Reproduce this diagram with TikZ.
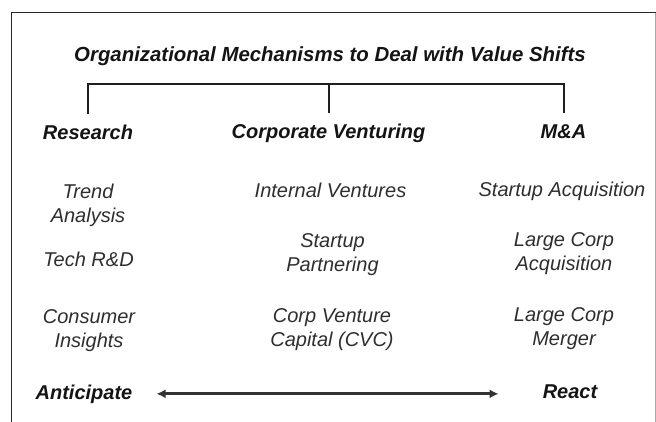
\documentclass[tikz,border=0pt]{standalone}
\usepackage{fontspec}
\setmainfont{Liberation Sans}
\usetikzlibrary{arrows.meta}
\begin{document}
\begin{tikzpicture}[x=1pt,y=-1pt,
  titletext/.style={font=\fontsize{20.4}{24}\selectfont\bfseries\itshape, text=black!92, inner sep=0pt, anchor=base},
  headtext/.style={font=\fontsize{20}{24}\selectfont\bfseries\itshape, text=black!92, inner sep=0pt, anchor=base},
  itemtext/.style={font=\fontsize{20}{24}\selectfont\itshape, text=black!82, inner sep=0pt, anchor=base, align=center},
  bracketline/.style={line width=2pt, draw=black!88},
  frameline/.style={line width=1.4pt, draw=black!85},
  spreadline/.style={line width=3pt, draw=black!80, {Latex[length=9pt,width=9pt]}-{Latex[length=9pt,width=9pt]}}
]
\useasboundingbox (0,0) rectangle (656,421);
% frame
\draw[frameline] (11.5,430) -- (11.5,12.7) -- (655.5,12.7);
\draw[line width=1.2pt, draw=black!35] (655.5,12.7) -- (655.5,430);

% title
\node[titletext] (title) at (330,61) {Organizational Mechanisms to Deal with Value Shifts};
\coordinate (bar) at (328,84);

% headings
\node[headtext] (res) at (88,139) {Research};
\node[headtext] (cv) at (328.5,138.5) {Corporate Venturing};
\node[headtext] (ma) at (563.5,138) {M\&A};

\draw[bracketline] ([yshift=10.5pt]res.north) |- (bar) -| ([yshift=10.5pt]ma.north);
\draw[bracketline] ([yshift=10.5pt]cv.north) -- (cv.north |- bar);

% column 1 (anchor=base is the last line's baseline)
\node[itemtext] (trend) at (88,222) {Trend\\Analysis};
\node[itemtext] (tech) at (88.5,266) {Tech R\&D};
\node[itemtext] (cons) at (89,347) {Consumer\\Insights};

% column 2
\node[itemtext] (intv) at (330.5,197) {Internal Ventures};
\node[itemtext] (stp) at (332.5,271) {Startup\\Partnering};
\node[itemtext] (cvc) at (332,346) {Corp Venture\\Capital (CVC)};

% column 3
\node[itemtext] (sacq) at (562,196.5) {Startup Acquisition};
\node[itemtext] (lacq) at (564,270) {Large Corp\\Acquisition};
\node[itemtext] (lmrg) at (564,345) {Large Corp\\Merger};

% bottom
\node[headtext] (antic) at (84,399) {Anticipate};
\node[headtext] (react) at (570,398) {React};
\draw[spreadline, shorten <=24pt, shorten >=44pt] (antic.east) -- (antic.east -| react.west);
\end{tikzpicture}
\end{document}
